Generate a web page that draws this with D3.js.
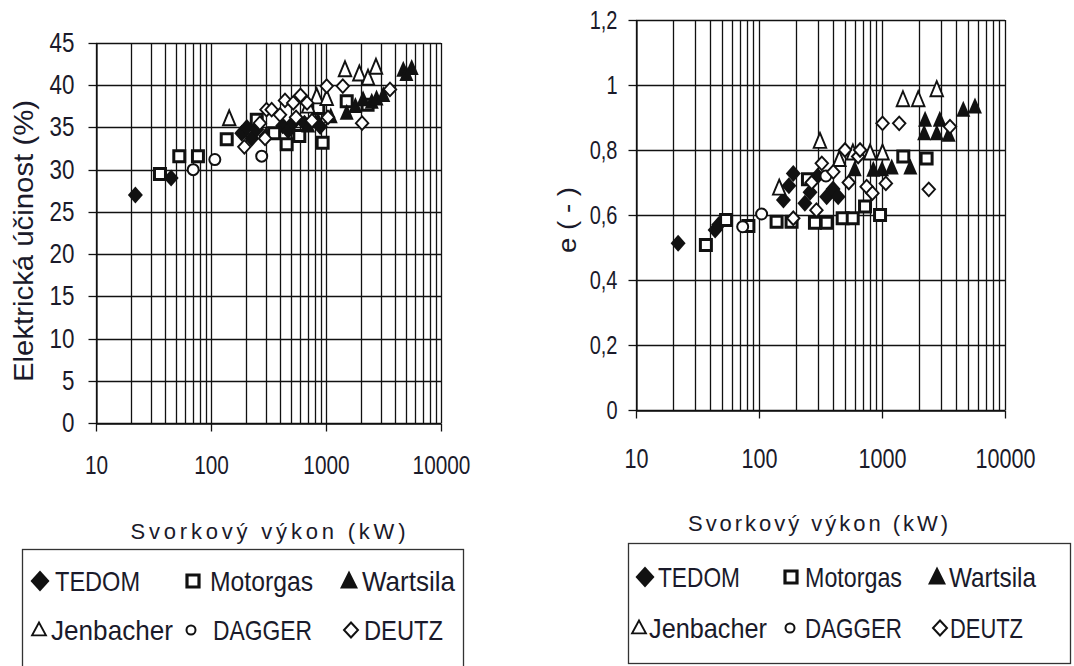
<!DOCTYPE html>
<html>
<head>
<meta charset="utf-8">
<script src="https://cdn.jsdelivr.net/npm/d3@7"></script>
<style>
  body { margin: 0; background: #fff; }
  svg { display: block; }
</style>
</head>
<body>
<svg id="chart" width="1074" height="666"></svg>
<script>
// ---------------- DATA ----------------
const seriesNames = ["TEDOM", "Motorgas", "Wartsila", "Jenbacher", "DAGGER", "DEUTZ"];
const xTickValues = [10, 100, 1000, 10000];
const xTickLabels = ["10", "100", "1000", "10000"];
const effTickValues = [0, 5, 10, 15, 20, 25, 30, 35, 40, 45];
const effTickLabels = ["0", "5", "10", "15", "20", "25", "30", "35", "40", "45"];
const eTickValues = [0, 0.2, 0.4, 0.6, 0.8, 1, 1.2];
const eTickLabels = ["0", "0,2", "0,4", "0,6", "0,8", "1", "1,2"];
const xTitle = "Svorkový výkon  (kW)";
const effTitle = "Elektrická účinost (%)";
const eTitle = "e ( - )";

// Electrical efficiency (%) vs. power (kW)
const effTEDOM = [[22, 27.0], [45, 29.0], [185, 34.3], [205, 35.0], [226, 33.7], [250, 34.8], [300, 34.0], [420, 35.2], [470, 34.6], [520, 35.6], [650, 35.5], [890, 35.1]];
const effMotorgas = [[36, 29.5], [53, 31.6], [77, 31.6], [137, 33.6], [250, 35.9], [354, 34.3], [455, 33.0], [586, 34.0], [857, 37.3], [935, 33.2], [1514, 38.1], [2300, 37.7]];
const effWartsila = [[700, 35.2], [850, 35.8], [1100, 36.3], [1514, 36.7], [1800, 37.5], [2100, 38.3], [2500, 38.0], [2750, 38.4], [3150, 38.8], [4700, 41.8], [5000, 41.3], [5560, 42.0]];
const effJenbacher = [[144, 36.0], [700, 37.5], [830, 38.6], [1014, 38.4], [1463, 41.8], [1950, 41.3], [2320, 40.8], [2720, 42.1]];
const effDAGGER = [[70, 30.0], [108, 31.2], [276, 31.6]];
const effDEUTZ = [[195, 32.7], [266, 35.5], [295, 33.7], [304, 37.1], [337, 37.1], [398, 36.5], [440, 38.2], [519, 37.9], [549, 36.2], [600, 38.8], [685, 37.9], [755, 35.8], [1014, 39.9], [1040, 36.2], [1400, 39.9], [2060, 35.5], [3600, 39.5]];

// e (-) vs. power (kW)
const eTEDOM = [[22, 0.513], [44, 0.554], [47, 0.57], [158, 0.646], [175, 0.69], [190, 0.728], [236, 0.636], [260, 0.67], [300, 0.72], [355, 0.656], [400, 0.68], [440, 0.656]];
const eMotorgas = [[37, 0.508], [54, 0.585], [82, 0.566], [139, 0.579], [184, 0.579], [250, 0.71], [285, 0.576], [355, 0.576], [479, 0.59], [578, 0.59], [728, 0.626], [964, 0.6], [1490, 0.78], [2305, 0.774]];
const eWartsila = [[600, 0.74], [850, 0.738], [1000, 0.74], [1200, 0.745], [1700, 0.745], [2200, 0.851], [2240, 0.892], [2790, 0.851], [2950, 0.892], [3480, 0.846], [4580, 0.923], [5700, 0.933]];
const eJenbacher = [[146, 0.682], [313, 0.826], [450, 0.77], [580, 0.79], [800, 0.79], [1010, 0.79], [1480, 0.954], [1970, 0.954], [2786, 0.985]];
const eDAGGER = [[73.7, 0.564], [105, 0.603], [350, 0.72]];
const eDEUTZ = [[190, 0.59], [268, 0.7], [293, 0.615], [324, 0.759], [402, 0.733], [500, 0.8], [537, 0.7], [640, 0.78], [663, 0.8], [750, 0.687], [836, 0.667], [1010, 0.882], [1075, 0.697], [1380, 0.882], [2400, 0.679], [3570, 0.872]];

// ---------------- STYLE / LAYOUT ----------------
const FONT = "'Liberation Sans', Arial, sans-serif";
const INK = "#111";
const TEXT = "#1a1a2a";
const CONDENSE = 0.8;

function diamondType(w, h) {
  return { draw(ctx) { ctx.moveTo(0, -h / 2); ctx.lineTo(w / 2, 0); ctx.lineTo(0, h / 2); ctx.lineTo(-w / 2, 0); ctx.closePath(); } };
}
function triangleType(w, h) {
  return { draw(ctx) { ctx.moveTo(0, -h * 0.58); ctx.lineTo(w / 2, h * 0.42); ctx.lineTo(-w / 2, h * 0.42); ctx.closePath(); } };
}
function squareType(s) {
  return { draw(ctx) { ctx.rect(-s / 2, -s / 2, s, s); } };
}
function circleType(r) {
  return { draw(ctx) { ctx.moveTo(r, 0); ctx.arc(0, 0, r, 0, 2 * Math.PI); } };
}

const markerStyles = {
  TEDOM:     { type: diamondType(15, 17), fill: INK, stroke: "none", sw: 0,
               legendType: diamondType(19, 21), lsw: 0 },
  Motorgas:  { type: squareType(11), fill: "#fff", stroke: INK, sw: 3,
               legendType: squareType(12), lsw: 3.2 },
  Wartsila:  { type: triangleType(14, 16), fill: INK, stroke: "none", sw: 0,
               legendType: triangleType(18, 18), lsw: 0 },
  Jenbacher: { type: triangleType(12.5, 15), fill: "#fff", stroke: INK, sw: 1.9,
               legendType: triangleType(14, 13), lsw: 1.8 },
  DAGGER:    { type: circleType(5.5), fill: "#fff", stroke: INK, sw: 2,
               legendType: circleType(4.5), lsw: 2 },
  DEUTZ:     { type: diamondType(12.5, 13.5), fill: "#fff", stroke: INK, sw: 1.9,
               legendType: diamondType(14, 15), lsw: 2 }
};

const panels = [
  {
    left: 96, right: 441, top: 43, bottom: 423,
    yDomain: [0, 45], yTicks: effTickValues, yLabels: effTickLabels, yFont: 28, yPad: 14,
    xFont: 26, xLabelBaseline: 473,
    yTitle: effTitle, yTitleX: 23, yTitleY: 241, yTitleLen: 282, yTitleFont: 28,
    xTitleX: 268, xTitleY: 539, xTitleLen: 275, xTitleFont: 22,
    series: { TEDOM: effTEDOM, Motorgas: effMotorgas, Wartsila: effWartsila, Jenbacher: effJenbacher, DAGGER: effDAGGER, DEUTZ: effDEUTZ },
    legend: {
      box: [22, 549, 441, 125],
      rows: [581, 630], baselines: [591, 640],
      items: [
        { name: "TEDOM", mx: 40, tx: 55, w: 85, row: 0 },
        { name: "Motorgas", mx: 193, tx: 210, w: 103, row: 0 },
        { name: "Wartsila", mx: 349, tx: 362, w: 93, row: 0 },
        { name: "Jenbacher", mx: 39, tx: 51, w: 122, row: 1 },
        { name: "DAGGER", mx: 191, tx: 213, w: 99, row: 1 },
        { name: "DEUTZ", mx: 351, tx: 364, w: 79, row: 1 }
      ]
    }
  },
  {
    left: 636, right: 1005, top: 20, bottom: 410,
    yDomain: [0, 1.2], yTicks: eTickValues, yLabels: eTickLabels, yFont: 25, yPad: 11,
    xFont: 27, xLabelBaseline: 467,
    yTitle: eTitle, yTitleX: 567, yTitleY: 220, yTitleLen: 66, yTitleFont: 26,
    xTitleX: 818, xTitleY: 531, xTitleLen: 260, xTitleFont: 22,
    series: { TEDOM: eTEDOM, Motorgas: eMotorgas, Wartsila: eWartsila, Jenbacher: eJenbacher, DAGGER: eDAGGER, DEUTZ: eDEUTZ },
    legend: {
      box: [628, 543, 442, 120],
      rows: [577, 628], baselines: [587, 638],
      items: [
        { name: "TEDOM", mx: 645, tx: 658, w: 82, row: 0 },
        { name: "Motorgas", mx: 791, tx: 805, w: 97, row: 0 },
        { name: "Wartsila", mx: 937, tx: 949, w: 87, row: 0 },
        { name: "Jenbacher", mx: 639, tx: 649, w: 118, row: 1 },
        { name: "DAGGER", mx: 790, tx: 805, w: 97, row: 1 },
        { name: "DEUTZ", mx: 940, tx: 950, w: 73, row: 1 }
      ]
    }
  }
];

// narrow the glyphs of axis labels, like a condensed face
function condense(sel) {
  sel.each(function () {
    const w = this.getComputedTextLength();
    d3.select(this).attr("textLength", w * CONDENSE).attr("lengthAdjust", "spacingAndGlyphs");
  });
}

// ---------------- DRAW ----------------
const svg = d3.select("#chart");
svg.append("rect").attr("width", 1074).attr("height", 666).attr("fill", "#fff");

panels.forEach(p => {
  const x = d3.scaleLog().domain([10, 10000]).range([p.left, p.right]);
  const y = d3.scaleLinear().domain(p.yDomain).range([p.bottom, p.top]);
  const g = svg.append("g");

  // grid
  const grid = g.append("g").attr("stroke", INK).attr("stroke-width", 1.3);
  grid.selectAll("line.v").data(x.ticks()).join("line")
    .attr("class", "v")
    .attr("x1", d => Math.round(x(d)) + 0.5).attr("x2", d => Math.round(x(d)) + 0.5)
    .attr("y1", p.top).attr("y2", p.bottom);
  grid.selectAll("line.h").data(p.yTicks).join("line")
    .attr("class", "h")
    .attr("x1", p.left).attr("x2", p.right)
    .attr("y1", d => Math.round(y(d)) + 0.5).attr("y2", d => Math.round(y(d)) + 0.5);

  // y axis
  const yAxis = g.append("g").attr("transform", `translate(${p.left + 0.5},0)`)
    .call(d3.axisLeft(y).tickValues(p.yTicks).tickFormat((d, i) => p.yLabels[i])
      .tickSize(8).tickSizeOuter(0).tickPadding(p.yPad));
  yAxis.selectAll(".tick").attr("transform", d => `translate(0,${Math.round(y(d)) + 0.5})`);
  yAxis.selectAll("path, line").attr("stroke", INK).attr("stroke-width", 1.3);
  yAxis.selectAll("text").attr("font-family", FONT).attr("font-size", p.yFont).attr("fill", TEXT)
    .call(condense);

  // x axis
  const xAxis = g.append("g").attr("transform", `translate(0,${Math.round(p.bottom) + 0.5})`)
    .call(d3.axisBottom(x).tickValues(xTickValues).tickFormat((d, i) => xTickLabels[i])
      .tickSize(8).tickSizeOuter(0).tickPadding(0));
  xAxis.selectAll(".tick").attr("transform", d => `translate(${Math.round(x(d)) + 0.5},0)`);
  xAxis.selectAll("path, line").attr("stroke", INK).attr("stroke-width", 1.3);
  xAxis.selectAll("text").attr("font-family", FONT).attr("font-size", p.xFont)
    .attr("fill", TEXT).attr("dy", null).attr("y", p.xLabelBaseline - p.bottom)
    .call(condense);

  // markers
  const markers = g.append("g");
  seriesNames.forEach(name => {
    const st = markerStyles[name];
    markers.append("g").selectAll("path").data(p.series[name]).join("path")
      .attr("transform", d => `translate(${x(d[0])},${y(d[1])})`)
      .attr("d", d3.symbol().type(st.type))
      .attr("fill", st.fill).attr("stroke", st.stroke).attr("stroke-width", st.sw)
      .attr("stroke-linejoin", "miter");
  });

  // y title
  g.append("text")
    .attr("transform", `translate(${p.yTitleX},${p.yTitleY}) rotate(-90)`)
    .attr("text-anchor", "middle").attr("dominant-baseline", "central")
    .attr("font-family", FONT).attr("font-size", p.yTitleFont)
    .attr("fill", TEXT)
    .attr("textLength", p.yTitleLen).attr("lengthAdjust", "spacingAndGlyphs")
    .text(p.yTitle);

  // x title
  g.append("text")
    .attr("x", p.xTitleX).attr("y", p.xTitleY)
    .attr("text-anchor", "middle")
    .attr("font-family", FONT).attr("font-size", p.xTitleFont)
    .attr("fill", TEXT)
    .attr("textLength", p.xTitleLen).attr("lengthAdjust", "spacing")
    .text(xTitle);

  // legend
  const L = p.legend;
  const lg = g.append("g");
  lg.append("rect").attr("x", L.box[0] + 0.5).attr("y", L.box[1] + 0.5)
    .attr("width", L.box[2]).attr("height", L.box[3])
    .attr("fill", "none").attr("stroke", "#333").attr("stroke-width", 1.3);
  L.items.forEach(it => {
    const st = markerStyles[it.name];
    lg.append("path")
      .attr("transform", `translate(${it.mx},${L.rows[it.row]})`)
      .attr("d", d3.symbol().type(st.legendType)())
      .attr("fill", st.fill).attr("stroke", st.stroke).attr("stroke-width", st.lsw);
    lg.append("text")
      .attr("x", it.tx).attr("y", L.baselines[it.row])
      .attr("font-family", FONT).attr("font-size", 28)
      .attr("fill", TEXT)
      .attr("textLength", it.w).attr("lengthAdjust", "spacingAndGlyphs")
      .text(it.name);
  });
});
</script>
</body>
</html>
